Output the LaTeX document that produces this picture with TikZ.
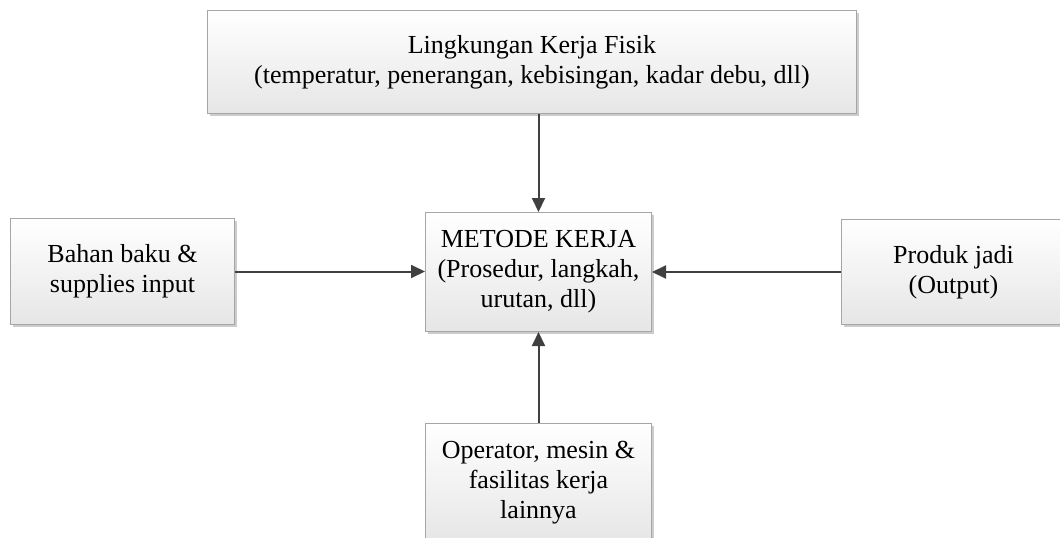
\documentclass[tikz,border=0pt]{standalone}
\usepackage{fontspec}
\setmainfont{Liberation Serif}
\usetikzlibrary{arrows.meta,shadows}
\definecolor{boxborder}{HTML}{A6A6A6}
\definecolor{boxbot}{HTML}{E6E6E6}
\definecolor{linecol}{HTML}{404040}
\begin{document}
\begin{tikzpicture}[x=1pt,y=-1pt,
  box/.style={draw=boxborder, line width=1pt, top color=white, bottom color=boxbot,
    align=center, font=\fontsize{26}{30}\selectfont, inner sep=0pt, anchor=north west,
    drop shadow={shadow xshift=2pt, shadow yshift=-2pt, fill=black, opacity=0.2}},
  conn/.style={draw=linecol, line width=2pt, -{Triangle[length=14pt,width=13pt]}}]
\useasboundingbox (0,0) rectangle (1060,538);
\clip (0,0) rectangle (1060,538);
\node[box, minimum width=649pt, minimum height=103pt] (top) at (207,10)
  {Lingkungan Kerja Fisik\\(temperatur, penerangan, kebisingan, kadar debu, dll)};
\node[box, minimum width=226pt, minimum height=119pt] (mid) at (425,212)
  {METODE KERJA\\(Prosedur, langkah,\\urutan, dll)};
\node[box, minimum width=224pt, minimum height=106pt] (left) at (10,218)
  {Bahan baku \&\\supplies input};
\node[box, minimum width=224pt, minimum height=105pt] (right) at (841,219)
  {Produk jadi\\(Output)};
\node[box, minimum width=226pt, minimum height=119pt] (bot) at (425,423)
  {Operator, mesin \&\\fasilitas kerja\\lainnya};
\draw[conn] (top.south -| mid.north) -- (mid.north);
\draw[conn] (left.east) -- (left.east -| mid.west);
\draw[conn] (right.west) -- (right.west -| mid.east);
\draw[conn] (bot.north) -- (mid.south);
\end{tikzpicture}
\end{document}
